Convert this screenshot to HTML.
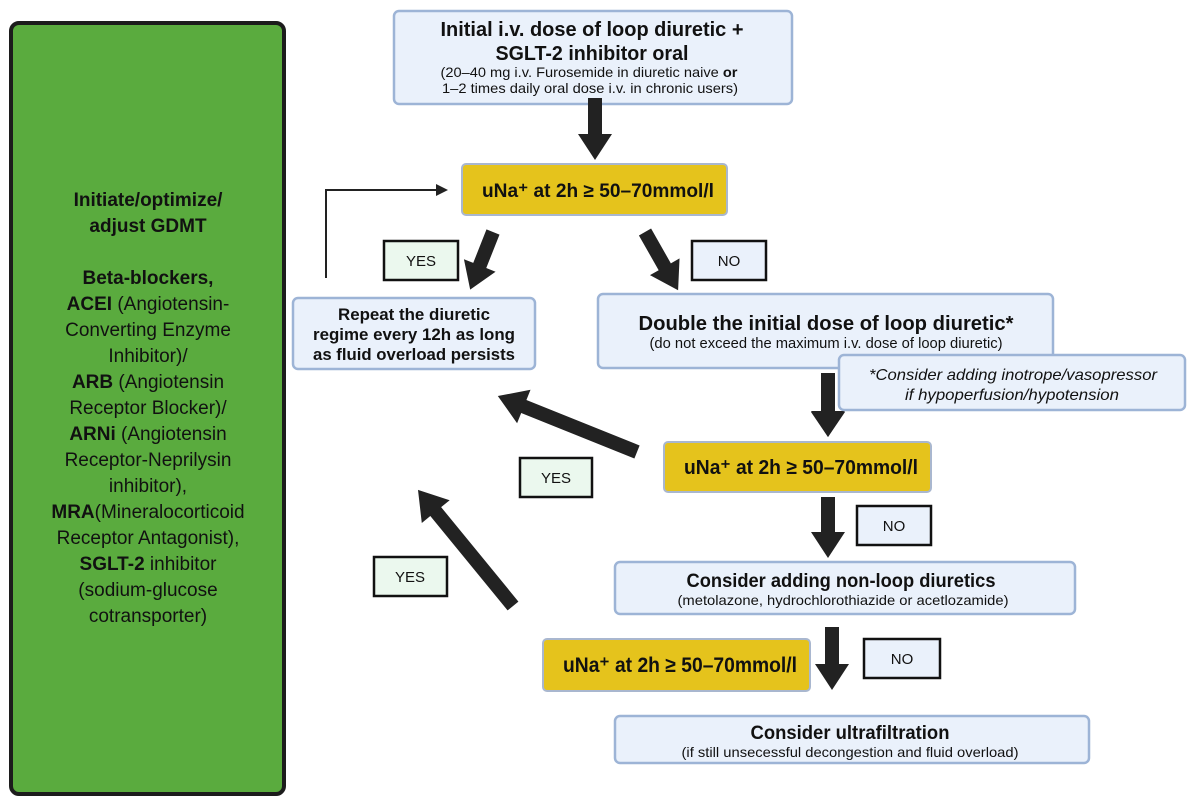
<!DOCTYPE html>
<html><head><meta charset="utf-8"><style>
html,body{margin:0;padding:0;background:#fff;}
svg{display:block;font-family:"Liberation Sans",sans-serif;}
</style></head><body>
<svg width="1200" height="802" viewBox="0 0 1200 802" xmlns="http://www.w3.org/2000/svg">
<!-- green panel -->
<rect x="11" y="23" width="273" height="771" rx="8" fill="#5aab3e" stroke="#1c1c1c" stroke-width="4"/>
<g font-size="19" text-anchor="middle" fill="#111">
<text x="148" y="206" font-weight="bold">Initiate/optimize/</text>
<text x="148" y="232" font-weight="bold">adjust GDMT</text>
<text x="148" y="284" font-weight="bold">Beta-blockers,</text>
<text x="148" y="310"><tspan font-weight="bold">ACEI</tspan> (Angiotensin-</text>
<text x="148" y="336">Converting Enzyme</text>
<text x="148" y="362">Inhibitor)/</text>
<text x="148" y="388"><tspan font-weight="bold">ARB</tspan> (Angiotensin</text>
<text x="148" y="414">Receptor Blocker)/</text>
<text x="148" y="440"><tspan font-weight="bold">ARNi</tspan> (Angiotensin</text>
<text x="148" y="466">Receptor-Neprilysin</text>
<text x="148" y="492">inhibitor),</text>
<text x="148" y="518"><tspan font-weight="bold">MRA</tspan>(Mineralocorticoid</text>
<text x="148" y="544">Receptor Antagonist),</text>
<text x="148" y="570"><tspan font-weight="bold">SGLT-2</tspan> inhibitor</text>
<text x="148" y="596">(sodium-glucose</text>
<text x="148" y="622">cotransporter)</text>
</g>

<!-- thick arrows (drawn before boxes so boxes overlap) -->
<g fill="#222">
<g transform="translate(828,373) rotate(90)"><polygon points="0,-7 38,-7 38,-17 64,0 38,17 38,7 0,7"/></g>
</g>

<g fill="#eaf1fb" stroke="#9db4d6" stroke-width="2.5">
<rect x="394" y="11" width="398" height="93" rx="5"/>
<rect x="293" y="298" width="242" height="71" rx="5"/>
<rect x="598" y="294" width="455" height="74" rx="5"/>
<rect x="839" y="355" width="346" height="55" rx="5"/>
<rect x="615" y="562" width="460" height="52" rx="5"/>
<rect x="615" y="716" width="474" height="47" rx="5"/>
</g>
<g fill="#e5c31c" stroke="#a9b7cf" stroke-width="2">
<rect x="462" y="164" width="265" height="51" rx="4"/>
<rect x="664" y="442" width="267" height="50" rx="4"/>
<rect x="543" y="639" width="267" height="52" rx="4"/>
</g>
<g stroke="#111" stroke-width="2.5">
<rect x="384" y="241" width="74" height="39" fill="#ebf8ee"/>
<rect x="692" y="241" width="74" height="39" fill="#eaf1fb"/>
<rect x="520" y="458" width="72" height="39" fill="#ebf8ee"/>
<rect x="857" y="506" width="74" height="39" fill="#eaf1fb"/>
<rect x="374" y="557" width="73" height="39" fill="#ebf8ee"/>
<rect x="864" y="639" width="76" height="39" fill="#eaf1fb"/>
</g>
<g font-size="15" text-anchor="middle" fill="#111">
<text x="421" y="266">YES</text>
<text x="729" y="266">NO</text>
<text x="556" y="483">YES</text>
<text x="894" y="531">NO</text>
<text x="410" y="582">YES</text>
<text x="902" y="664">NO</text>
</g>

<!-- loop connector -->
<polyline points="326,278 326,190 440,190" fill="none" stroke="#222" stroke-width="2"/>
<polygon points="448,190 436,184 436,196" fill="#222"/>

<g fill="#222">
<g transform="translate(595,98) rotate(90)"><polygon points="0,-7 36,-7 36,-17 62,0 36,17 36,7 0,7"/></g>
<g transform="translate(493,232) rotate(111.6)"><polygon points="0,-7 36,-7 36,-17 62,0 36,17 36,7 0,7"/></g>
<g transform="translate(645,232) rotate(60.4)"><polygon points="0,-7 40,-7 40,-17 67,0 40,17 40,7 0,7"/></g>
<g transform="translate(828,412) rotate(90)"><polygon points="0,-7 0,-17 25,0 0,17 0,7"/></g>
<g transform="translate(637,452) rotate(201.9)"><polygon points="0,-7 122,-7 122,-18 150,0 122,18 122,7 0,7"/></g>
<g transform="translate(828,497) rotate(90)"><polygon points="0,-7 35,-7 35,-17 61,0 35,17 35,7 0,7"/></g>
<g transform="translate(513,606) rotate(230.7)"><polygon points="0,-7 122,-7 122,-18 150,0 122,18 122,7 0,7"/></g>
<g transform="translate(832,627) rotate(90)"><polygon points="0,-7 37,-7 37,-17 63,0 37,17 37,7 0,7"/></g>
</g>

<g text-anchor="middle" fill="#111">
<text x="592" y="36" font-size="20" font-weight="bold" textLength="303" lengthAdjust="spacingAndGlyphs">Initial i.v. dose of loop diuretic +</text>
<text x="592" y="60" font-size="20" font-weight="bold" textLength="193" lengthAdjust="spacingAndGlyphs">SGLT-2 inhibitor oral</text>
<text x="589" y="77" font-size="14" textLength="297" lengthAdjust="spacingAndGlyphs">(20–40 mg i.v. Furosemide in diuretic naive <tspan font-weight="bold">or</tspan></text>
<text x="590" y="93" font-size="14" textLength="296" lengthAdjust="spacingAndGlyphs">1–2 times daily oral dose i.v. in chronic users)</text>
<text x="598" y="197" font-size="19" font-weight="bold" textLength="232" lengthAdjust="spacingAndGlyphs">uNa⁺ at 2h ≥ 50–70mmol/l</text>
<text x="414" y="320" font-size="16.5" font-weight="bold" textLength="152" lengthAdjust="spacingAndGlyphs">Repeat the diuretic</text>
<text x="414" y="340" font-size="16.5" font-weight="bold" textLength="202" lengthAdjust="spacingAndGlyphs">regime every 12h as long</text>
<text x="414" y="360" font-size="16.5" font-weight="bold" textLength="202" lengthAdjust="spacingAndGlyphs">as fluid overload persists</text>
<text x="826" y="330" font-size="20" font-weight="bold" textLength="375" lengthAdjust="spacingAndGlyphs">Double the initial dose of loop diuretic*</text>
<text x="826" y="348" font-size="15" textLength="353" lengthAdjust="spacingAndGlyphs">(do not exceed the maximum i.v. dose of loop diuretic)</text>
<text x="1013" y="380" font-size="16" font-style="italic" textLength="288" lengthAdjust="spacingAndGlyphs">*Consider adding inotrope/vasopressor</text>
<text x="1012" y="400" font-size="16" font-style="italic" textLength="214" lengthAdjust="spacingAndGlyphs">if hypoperfusion/hypotension</text>
<text x="801" y="474" font-size="20" font-weight="bold" textLength="234" lengthAdjust="spacingAndGlyphs">uNa⁺ at 2h ≥ 50–70mmol/l</text>
<text x="841" y="587" font-size="19" font-weight="bold" textLength="309" lengthAdjust="spacingAndGlyphs">Consider adding non-loop diuretics</text>
<text x="843" y="605" font-size="14" textLength="331" lengthAdjust="spacingAndGlyphs">(metolazone, hydrochlorothiazide or acetlozamide)</text>
<text x="680" y="672" font-size="21" font-weight="bold" textLength="234" lengthAdjust="spacingAndGlyphs">uNa⁺ at 2h ≥ 50–70mmol/l</text>
<text x="850" y="739" font-size="19" font-weight="bold" textLength="199" lengthAdjust="spacingAndGlyphs">Consider ultrafiltration</text>
<text x="850" y="757" font-size="14" textLength="337" lengthAdjust="spacingAndGlyphs">(if still unsecessful decongestion and fluid overload)</text>
</g>
</svg>
</body></html>
